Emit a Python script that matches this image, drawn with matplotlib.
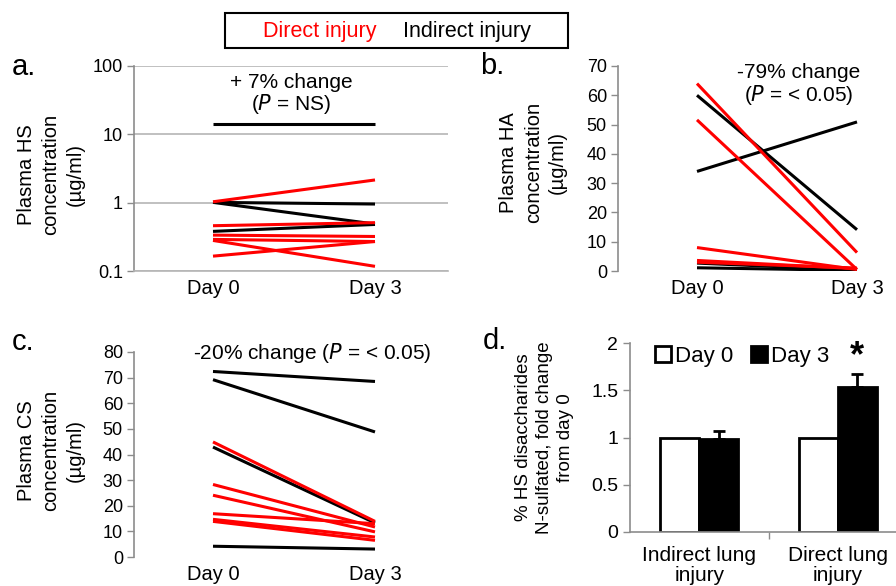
import matplotlib
matplotlib.use('Agg')
import matplotlib.pyplot as plt
from matplotlib.patches import Rectangle

plt.rcParams['font.family'] = ['Liberation Sans', 'DejaVu Sans']

days = ['Day 0', 'Day 3']

# a. plasma HS (ug/ml), each row = one patient [day 0, day 3]
hs_direct = [[1.03, 2.15], [0.46, 0.51], [0.335, 0.32], [0.29, 0.27], [0.28, 0.117], [0.165, 0.27]]
hs_indirect = [[14.0, 14.0], [1.01, 0.955], [1.01, 0.486], [0.38, 0.48]]

# b. plasma HA
ha_direct = [[64.0, 6.3], [51.6, 0.5], [8.0, 0.5], [3.6, 0.8], [3.0, 1.0]]
ha_indirect = [[60.0, 14.1], [34.0, 50.9], [2.7, 0.3], [1.1, 0.2]]

# c. plasma CS
cs_direct = [[44.9, 13.9], [28.3, 11.7], [24.1, 9.8], [16.9, 13.0], [14.7, 7.8], [13.9, 6.5]]
cs_indirect = [[72.4, 68.5], [69.2, 48.8], [42.9, 13.3], [4.2, 3.1]]

# d. N-sulfated fold change
groups = ['Indirect lung\ninjury', 'Direct lung\ninjury']
day0_fold = [1.0, 1.0]
day3_fold = [0.98, 1.53]
day3_err = [0.09, 0.14]

W, H = 896, 586
fig = plt.figure(figsize=(W / 100, H / 100), dpi=100)

def px_axes(l, t, r, b):
    return fig.add_axes([l / W, 1 - b / H, (r - l) / W, (b - t) / H])

def ftext(x, y, s, **kw):
    fig.text(x / W, 1 - y / H, s, **kw)

grey = '#8c8c8c'
lw = 2.2

def pair_panel(ax, direct, indirect):
    for row in indirect:
        ax.plot([1, 2], row, color='black', lw=lw, solid_capstyle='butt')
    for row in direct:
        ax.plot([1, 2], row, color='red', lw=lw, solid_capstyle='butt')
    ax.set_xticks([1, 2])
    ax.set_xticklabels(days, fontsize=14.5)
    ax.tick_params(axis='x', length=0, pad=6)
    ax.tick_params(axis='y', labelsize=13, color=grey, length=5, width=1, pad=3)
    for s in ['top', 'right']:
        ax.spines[s].set_visible(False)
    ax.spines['left'].set_color(grey)
    ax.spines['left'].set_linewidth(1.2)

ylab_kw = dict(fontsize=14.5, linespacing=1.35, ha='center', va='center')

# ---- a ----
ax = px_axes(134, 66, 448, 271)
pair_panel(ax, hs_direct, hs_indirect)
ax.set_yscale('log')
ax.set_ylim(0.1, 100)
ax.set_yticks([0.1, 1, 10, 100])
ax.set_yticklabels(['0.1', '1', '10', '100'])
ax.minorticks_off()
ax.yaxis.grid(True, color='#b5b5b5', lw=1.2)
ax.set_axisbelow(True)
ax.spines['bottom'].set_color('#b5b5b5')
ax.spines['bottom'].set_linewidth(1.2)
ax.set_xlim(1 - 79 / 162, 2 + 73 / 162)
ax.set_ylabel('Plasma HS\nconcentration\n(µg/ml)', **ylab_kw)
ax.yaxis.set_label_coords(-0.265, 0.47)
ftext(291, 82, '+ 7% change', fontsize=15, ha='center', va='center')
ftext(291, 104, '($\\it{P}$ = NS)', fontsize=15, ha='center', va='center')

# ---- b ----
ax = px_axes(618, 66, 896, 271)
pair_panel(ax, ha_direct, ha_indirect)
ax.set_ylim(0, 70)
ax.set_yticks(range(0, 71, 10))
ax.spines['bottom'].set_visible(False)
ax.set_xlim(1 - 79 / 160, 2 + 39 / 160)
ax.set_ylabel('Plasma HA\nconcentration\n(µg/ml)', **ylab_kw)
ax.yaxis.set_label_coords(-0.305, 0.53)
ftext(799, 73, '-79% change', fontsize=15, ha='center', va='center')
ftext(799, 95, '($\\it{P}$ = < 0.05)', fontsize=15, ha='center', va='center')

# ---- c ----
ax = px_axes(134, 352, 448, 557)
pair_panel(ax, cs_direct, cs_indirect)
ax.set_ylim(0, 80)
ax.set_yticks(range(0, 81, 10))
ax.spines['bottom'].set_visible(False)
ax.set_xlim(1 - 79 / 162, 2 + 73 / 162)
ax.set_ylabel('Plasma CS\nconcentration\n(µg/ml)', **ylab_kw)
ax.yaxis.set_label_coords(-0.265, 0.52)
ftext(312, 353, '-20% change ($\\it{P}$ = < 0.05)', fontsize=15, ha='center', va='center')

# ---- d ----
ax = px_axes(630, 343, 896, 532)
xs = [0, 1]
bw = 0.28
ax.bar([x - bw / 2 for x in xs], day0_fold, bw, color='white', edgecolor='black', lw=2, label='Day 0')
ax.bar([x + bw / 2 for x in xs], day3_fold, bw, color='black', edgecolor='black', lw=2, label='Day 3',
       yerr=[[0, 0], day3_err], error_kw=dict(ecolor='black', elinewidth=2, capsize=4, capthick=2))
ax.set_xlim(-0.5, 1 + 58 / 138)
ax.set_ylim(0, 2)
ax.set_yticks([0, 0.5, 1, 1.5, 2])
ax.set_yticklabels(['0', '0.5', '1', '1.5', '2'])
ax.set_xticks(xs)
ax.set_xticklabels(groups, fontsize=15, linespacing=1.05)
ax.set_xticks([0.5], minor=True)
ax.tick_params(axis='x', which='major', length=0, pad=10)
ax.tick_params(axis='x', which='minor', length=5, color=grey, width=1)
ax.tick_params(axis='y', labelsize=14, color=grey, length=5, width=1)
for s in ['top', 'right']:
    ax.spines[s].set_visible(False)
for s in ['left', 'bottom']:
    ax.spines[s].set_color(grey)
    ax.spines[s].set_linewidth(1.2)
ax.set_ylabel('% HS disaccharides\nN-sulfated, fold change\nfrom day 0', fontsize=13.5, linespacing=1.3,
              ha='center', va='center')
ax.yaxis.set_label_coords(-0.32, 0.5)
ax.legend(loc='upper left', bbox_to_anchor=(0.02, 1.09), ncol=2, frameon=False, fontsize=16,
          handlelength=0.7, handleheight=0.7, handletextpad=0.2, columnspacing=0.8)
ax.text(1 + bw / 2, 1.86, '*', fontsize=26, fontweight='bold', ha='center', va='center')

# panel letters
for x, y, s in [(12, 75, 'a.'), (480, 74, 'b.'), (12, 350, 'c.'), (483, 349, 'd.')]:
    ftext(x, y, s, fontsize=21, ha='left', va='baseline')

# top legend box
fig.patches.append(Rectangle((225 / W, 1 - 48 / H), (568 - 225) / W, 35 / H,
                             transform=fig.transFigure, fill=False, edgecolor='black', lw=1.5))
ftext(320, 31, 'Direct injury', fontsize=15.5, color='red', ha='center', va='center')
ftext(467, 31, 'Indirect injury', fontsize=15.5, color='black', ha='center', va='center')

fig.savefig('out.png', dpi=100)
